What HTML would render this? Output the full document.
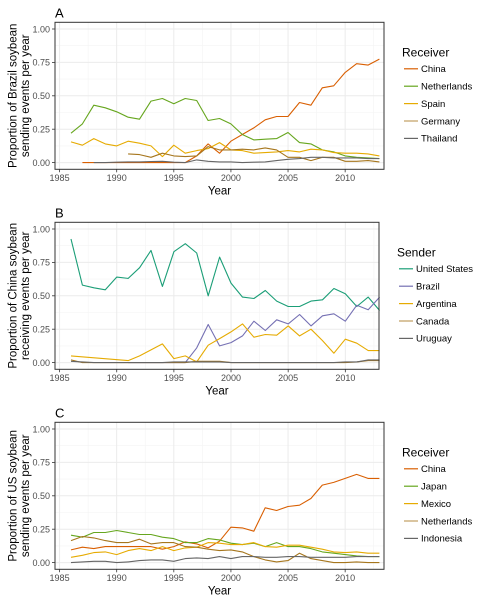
<!DOCTYPE html>
<html><head><meta charset="utf-8"><style>
body{margin:0;background:#fff;font-family:"Liberation Sans",sans-serif}
svg text{font-family:"Liberation Sans",sans-serif}
</style></head><body>
<svg id="chart" width="480" height="600" xmlns="http://www.w3.org/2000/svg"></svg>
<script>
const years = [1986,1987,1988,1989,1990,1991,1992,1993,1994,1995,1996,1997,1998,1999,2000,2001,2002,2003,2004,2005,2006,2007,2008,2009,2010,2011,2012,2013];
const yTicks = [0,0.25,0.5,0.75,1.0];
const yTickLabels = ["0.00","0.25","0.50","0.75","1.00"];
const xTicks = [1985,1990,1995,2000,2005,2010];
const xTickLabels = ["1985","1990","1995","2000","2005","2010"];

// Panel A: Brazil sending
const aNames = ["China","Netherlands","Spain","Germany","Thailand"];
const aChina = [null,0,0,0,0,0,0,0,0,0,0,0.05,0.14,0.07,0.16,0.21,0.26,0.32,0.345,0.345,0.45,0.43,0.56,0.575,0.675,0.74,0.73,0.775];
const aNetherlands = [0.22,0.29,0.43,0.41,0.38,0.34,0.325,0.46,0.48,0.44,0.48,0.465,0.315,0.33,0.29,0.21,0.17,0.175,0.18,0.225,0.15,0.14,0.095,0.08,0.05,0.04,0.035,0.03];
const aSpain = [0.155,0.13,0.18,0.14,0.125,0.16,0.145,0.125,0.045,0.13,0.07,0.09,0.105,0.15,0.095,0.09,0.07,0.075,0.08,0.09,0.08,0.10,0.095,0.075,0.07,0.07,0.065,0.05];
const aGermany = [null,null,null,null,null,0.065,0.06,0.04,0.07,0.05,0.045,0.05,0.12,0.095,0.095,0.10,0.095,0.11,0.095,0.04,0.04,0.015,0.04,0.04,0.01,0.01,0.015,0.005];
const aThailand = [null,null,0,0,0.003,0.005,0.005,0.008,0.01,0.003,0,0.02,0.01,0.005,0.005,0,0.003,0.005,0.015,0.025,0.03,0.04,0.04,0.035,0.035,0.035,0.03,0.03];

// Panel B: China receiving
const bNames = ["United States","Brazil","Argentina","Canada","Uruguay"];
const bUS = [0.925,0.58,0.56,0.545,0.64,0.63,0.71,0.84,0.57,0.83,0.89,0.82,0.50,0.79,0.595,0.49,0.48,0.54,0.46,0.42,0.42,0.46,0.47,0.555,0.515,0.42,0.49,0.39];
const bBrazil = [null,null,null,null,null,0,0,0,0,0,0,0.11,0.285,0.125,0.15,0.20,0.31,0.24,0.32,0.29,0.36,0.275,0.35,0.365,0.31,0.43,0.395,0.49];
const bArgentina = [0.05,null,null,null,null,0.015,0.05,null,0.14,0.03,0.05,0.005,0.13,0.18,0.23,0.29,0.19,0.21,0.205,0.275,0.20,0.25,0.165,0.07,0.175,0.145,0.09,0.09];
const bCanada = [0.02,0,0,0,0,0,0,0,0,0,0,0.01,0.01,0.01,0,0,0,0,0,0,0,0,0,0,0,0.005,0.015,0.015];
const bUruguay = [0.01,0.005,0,0,0,0,0,0,0,0.005,0.005,0.005,0.005,0.005,0,0,0,0,0,0,0,0,0,0,0.005,0.005,0.02,0.02];

// Panel C: US sending
const cNames = ["China","Japan","Mexico","Netherlands","Indonesia"];
const cChina = [0.095,0.115,0.105,0.12,0.12,0.12,0.12,0.12,0.10,0.12,0.155,0.14,0.11,0.16,0.265,0.26,0.235,0.41,0.39,0.42,0.43,0.48,0.58,0.60,0.63,0.66,0.63,0.63];
const cJapan = [0.205,0.19,0.225,0.225,0.24,0.225,0.21,0.21,0.19,0.18,0.15,0.15,0.18,0.17,0.145,0.135,0.145,0.12,0.15,0.12,0.12,0.105,0.08,0.07,0.06,0.05,0.045,0.045];
const cMexico = [0.04,0.055,0.075,0.08,0.06,0.09,0.105,0.09,0.12,0.09,0.11,0.115,0.15,0.145,0.135,0.135,0.15,0.12,0.115,0.13,0.13,0.115,0.10,0.08,0.075,0.08,0.07,0.07];
const cNetherlands = [0.165,0.195,0.185,0.165,0.15,0.15,0.175,0.14,0.15,0.15,0.12,0.115,0.10,0.09,0.095,0.08,0.045,0.02,0.005,0.015,0.07,0.03,0.015,0,0,0.005,0,0];
const cIndonesia = [0,0.005,0.01,0.01,0,0.005,0.015,0.02,0.02,0.01,0.03,0.035,0.03,0.045,0.03,0.045,0.045,0.04,0.04,0.045,0.045,0.04,0.04,0.04,0.04,0.045,0.045,0.045];

const colors = ["#d95f02","#66a61e","#e6ab02","#a6761d","#666666"];
const colorsB = ["#1b9e77","#7570b3","#e6ab02","#a6761d","#666666"];

const NS="http://www.w3.org/2000/svg";
const svg=document.getElementById('chart');
function mk(tag,attrs,parent){const e=document.createElementNS(NS,tag);for(const k in attrs)e.setAttribute(k,attrs[k]);(parent||svg).appendChild(e);return e;}

function panel(cfg){
  const g=mk('g',{});
  
  
  const L=55,R=cfg.right,T=cfg.top,B=T+147;
  const x0=1984.6,x1=2013.4+(cfg.right-384)/11;
  const xs=v=>L+(v-x0)/(x1-x0)*(R-L);
  const ys=v=>B-6.7-v*133.6;
  for(let v=0.125;v<1.1;v+=0.25){const l=mk('line',{x1:L,x2:R,y1:ys(v),y2:ys(v),stroke:'#f4f4f4','stroke-width':0.6},g);}
  for(let v=1987.5;v<2014;v+=5){const l=mk('line',{x1:xs(v),x2:xs(v),y1:T,y2:B,stroke:'#f4f4f4','stroke-width':0.6},g);}
  yTicks.forEach((v,i)=>{
    const l=mk('line',{x1:L,x2:R,y1:ys(v),y2:ys(v),stroke:'#ebebeb','stroke-width':1},g);
    
    mk('line',{x1:L-3,x2:L,y1:ys(v),y2:ys(v),stroke:'#333','stroke-width':0.8},g);
    const t=mk('text',{x:L-5,y:ys(v)+3.3,'text-anchor':'end','font-size':'9px',fill:'#4d4d4d'},g);
    t.textContent=yTickLabels[i];
  });
  xTicks.forEach((v,i)=>{
    const l=mk('line',{x1:xs(v),x2:xs(v),y1:T,y2:B,stroke:'#ebebeb','stroke-width':1},g);
    
    mk('line',{x1:xs(v),x2:xs(v),y1:B,y2:B+3,stroke:'#333','stroke-width':0.8},g);
    const t=mk('text',{x:xs(v),y:B+11.5,'text-anchor':'middle','font-size':'9px',fill:'#4d4d4d'},g);
    t.textContent=xTickLabels[i];
  });
  cfg.series.forEach((s,k)=>{
    const pts=[];s.forEach((v,i)=>{if(v!==null)pts.push(xs(years[i]).toFixed(1)+','+ys(v).toFixed(1));});
    const p=mk('polyline',{points:pts.join(' '),fill:'none',stroke:cfg.colors[k],'stroke-width':1.1,'stroke-linejoin':'round'},g);
    
    
  });
  const bd=mk('rect',{x:L,y:T,width:R-L,height:B-T,fill:'none',stroke:'#333','stroke-width':1},g);
  
  const lt=mk('text',{x:55,y:T-5,'font-size':'13px',fill:'#000'},g);lt.textContent=cfg.letter;
  
  const xt=mk('text',{x:(L+R)/2,y:B+25,'text-anchor':'middle','font-size':'11.5px',fill:'#000'},g);xt.textContent='Year';
  
  const yc=(T+B)/2;
  const yt=mk('text',{transform:'translate(16.5,'+yc+') rotate(-90)','text-anchor':'middle','font-size':'11.5px',fill:'#000'},g);
  
  const t1=mk('tspan',{x:0,y:0},yt);t1.textContent=cfg.ytitle[0];
  const t2=mk('tspan',{x:0,y:12.5},yt);t2.textContent=cfg.ytitle[1];
  const lg=mk('g',{},g);
  const tt=mk('text',{x:cfg.lx,y:T+34,'font-size':'12px',fill:'#000'},lg);tt.textContent=cfg.legendTitle;
  
  cfg.names.forEach((n,k)=>{
    const cy=T+46.5+k*17.4;
    const e=mk('g',{},lg);
    mk('line',{x1:cfg.lx+2,x2:cfg.lx+16,y1:cy,y2:cy,stroke:cfg.colors[k],'stroke-width':1.2,opacity:k==3?0.7:1},e);
    const t=mk('text',{x:cfg.lx+19,y:cy+3.3,'font-size':'9.5px',fill:'#000'},e);t.textContent=n;
  });
}
panel({letter:'A',top:22.3,right:384,lx:402,legendTitle:'Receiver',names:aNames,colors:colors,
  series:[aChina,aNetherlands,aSpain,aGermany,aThailand],ytitle:['Proportion of Brazil soybean','sending events per year']});
panel({letter:'B',top:222.3,right:379,lx:397,legendTitle:'Sender',names:bNames,colors:colorsB,
  series:[bUS,bBrazil,bArgentina,bCanada,bUruguay],ytitle:['Proportion of China soybean','receiving events per year']});
panel({letter:'C',top:422.3,right:384,lx:402,legendTitle:'Receiver',names:cNames,colors:colors,
  series:[cChina,cJapan,cMexico,cNetherlands,cIndonesia],ytitle:['Proportion of US soybean','sending events per year']});
</script>
</body></html>
